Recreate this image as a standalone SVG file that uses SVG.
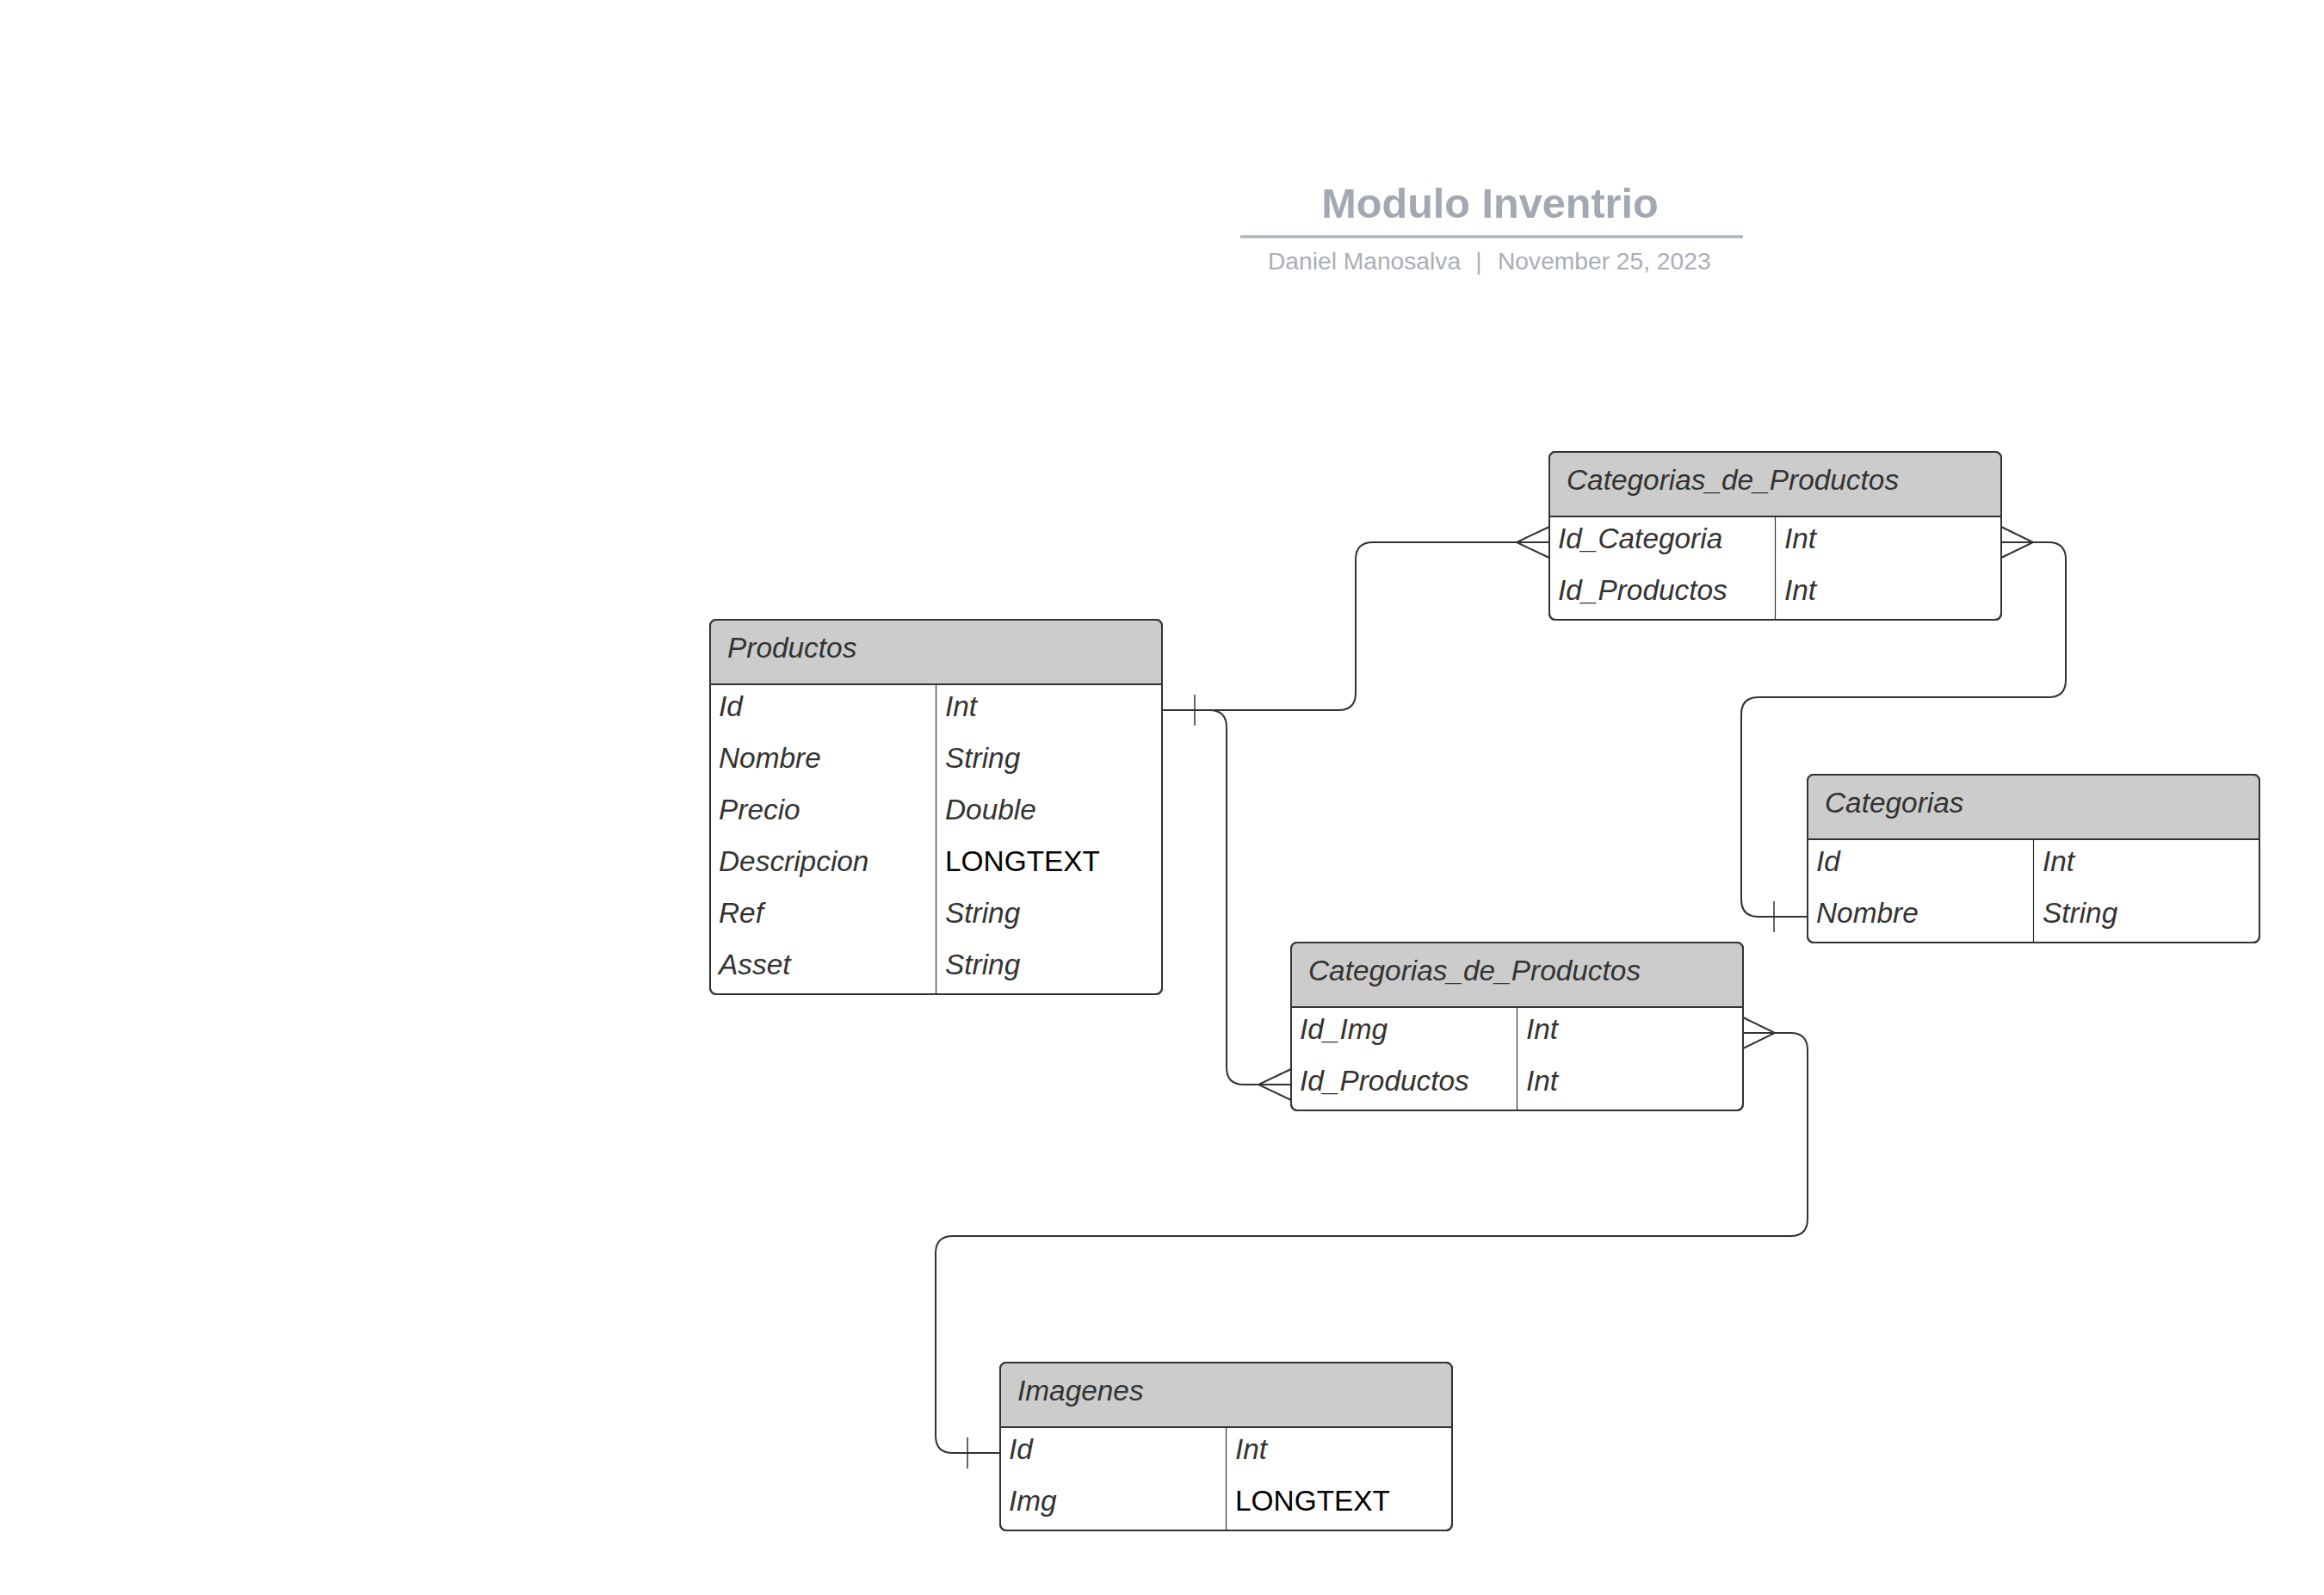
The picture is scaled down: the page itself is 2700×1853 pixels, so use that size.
<svg xmlns="http://www.w3.org/2000/svg" width="2700" height="1853" viewBox="0 0 2700 1853">
<style>
  .box{fill:#ffffff;stroke:#333333;stroke-width:2}
  .hdr{fill:#cccccc;stroke:none}
  .sep{stroke:#333333;stroke-width:2}
  .div{stroke:#333333;stroke-width:1.2}
  .ht{font-family:"Liberation Sans",Arial,sans-serif;font-size:33.4px;font-style:italic;fill:#333333}
  .ft{font-family:"Liberation Sans",Arial,sans-serif;font-size:33.4px;font-style:italic;fill:#333333}
  .lt{font-family:"Liberation Sans",Arial,sans-serif;font-size:33.4px;fill:#000000}
  .conn{fill:none;stroke:#333333;stroke-width:2}
  .tick{fill:none;stroke:#333333;stroke-width:1.5}
  .title{font-family:"Liberation Sans",Arial,sans-serif;font-size:48.6px;font-weight:bold;fill:#a3a9b3}
  .sub{font-family:"Liberation Sans",Arial,sans-serif;font-size:28.2px;fill:#a9aeb7}
</style>
<defs>
  <path id="hdrShape" d="M0,75 V7 Q0,0 7,0 H518 Q525,0 525,7 V75 Z"/>
</defs>
<rect width="2700" height="1853" fill="#ffffff"/>

<g id="title">
  <text class="title" x="1731" y="253" text-anchor="middle">Modulo Inventrio</text>
  <line x1="1441" y1="275" x2="2025" y2="275" stroke="#b0b4bb" stroke-width="3.5"/>
  <text class="sub" x="1473" y="313">Daniel Manosalva</text>
  <text class="sub" x="1718" y="313" text-anchor="middle">|</text>
  <text class="sub" x="1740" y="313">November 25, 2023</text>
</g>

<g id="connectors">
  <path class="conn" d="M1350,825 H1555 Q1575,825 1575,805 V650 Q1575,630 1595,630 H1800"/>
  <path class="conn" d="M1800,612 L1762,630 L1800,648"/>
  <path class="tick" d="M1388,807 V843"/>
  <path class="conn" d="M1350,825 H1405 Q1425,825 1425,845 V1240 Q1425,1260 1445,1260 H1500"/>
  <path class="conn" d="M1500,1242 L1462,1260 L1500,1278"/>
  <path class="conn" d="M2325,630 H2380 Q2400,630 2400,650 V790 Q2400,810 2380,810 H2043 Q2023,810 2023,830 V1045 Q2023,1065 2043,1065 H2100"/>
  <path class="conn" d="M2325,612 L2362,630 L2325,648"/>
  <path class="tick" d="M2061,1047 V1083"/>
  <path class="conn" d="M2025,1200 H2080 Q2100,1200 2100,1220 V1416 Q2100,1436 2080,1436 H1107 Q1087,1436 1087,1456 V1668 Q1087,1688 1107,1688 H1162"/>
  <path class="conn" d="M2025,1182 L2062,1200 L2025,1218"/>
  <path class="tick" d="M1124,1670 V1706"/>
</g>

<g id="productos" transform="translate(825,720)">
  <rect class="box" x="0" y="0" width="525" height="435" rx="7"/>
  <use href="#hdrShape" class="hdr"/>
  <rect x="0" y="0" width="525" height="435" rx="7" fill="none" stroke="#333333" stroke-width="2"/>
  <line class="sep" x1="0" y1="75" x2="525" y2="75"/>
  <line class="div" x1="262.5" y1="75" x2="262.5" y2="435"/>
  <text class="ht" x="20" y="44">Productos</text>
  <text class="ft" x="10" y="112">Id</text><text class="ft" x="273" y="112">Int</text>
  <text class="ft" x="10" y="172">Nombre</text><text class="ft" x="273" y="172">String</text>
  <text class="ft" x="10" y="232">Precio</text><text class="ft" x="273" y="232">Double</text>
  <text class="ft" x="10" y="292">Descripcion</text><text class="lt" x="273" y="292">LONGTEXT</text>
  <text class="ft" x="10" y="352">Ref</text><text class="ft" x="273" y="352">String</text>
  <text class="ft" x="10" y="412">Asset</text><text class="ft" x="273" y="412">String</text>
</g>

<g id="categorias_de_productos_1" transform="translate(1800,525)">
  <rect class="box" x="0" y="0" width="525" height="195" rx="7"/>
  <use href="#hdrShape" class="hdr"/>
  <rect x="0" y="0" width="525" height="195" rx="7" fill="none" stroke="#333333" stroke-width="2"/>
  <line class="sep" x1="0" y1="75" x2="525" y2="75"/>
  <line class="div" x1="262.5" y1="75" x2="262.5" y2="195"/>
  <text class="ht" x="20" y="44">Categorias_de_Productos</text>
  <text class="ft" x="10" y="112">Id_Categoria</text><text class="ft" x="273" y="112">Int</text>
  <text class="ft" x="10" y="172">Id_Productos</text><text class="ft" x="273" y="172">Int</text>
</g>

<g id="categorias" transform="translate(2100,900)">
  <rect class="box" x="0" y="0" width="525" height="195" rx="7"/>
  <use href="#hdrShape" class="hdr"/>
  <rect x="0" y="0" width="525" height="195" rx="7" fill="none" stroke="#333333" stroke-width="2"/>
  <line class="sep" x1="0" y1="75" x2="525" y2="75"/>
  <line class="div" x1="262.5" y1="75" x2="262.5" y2="195"/>
  <text class="ht" x="20" y="44">Categorias</text>
  <text class="ft" x="10" y="112">Id</text><text class="ft" x="273" y="112">Int</text>
  <text class="ft" x="10" y="172">Nombre</text><text class="ft" x="273" y="172">String</text>
</g>

<g id="categorias_de_productos_2" transform="translate(1500,1095)">
  <rect class="box" x="0" y="0" width="525" height="195" rx="7"/>
  <use href="#hdrShape" class="hdr"/>
  <rect x="0" y="0" width="525" height="195" rx="7" fill="none" stroke="#333333" stroke-width="2"/>
  <line class="sep" x1="0" y1="75" x2="525" y2="75"/>
  <line class="div" x1="262.5" y1="75" x2="262.5" y2="195"/>
  <text class="ht" x="20" y="44">Categorias_de_Productos</text>
  <text class="ft" x="10" y="112">Id_Img</text><text class="ft" x="273" y="112">Int</text>
  <text class="ft" x="10" y="172">Id_Productos</text><text class="ft" x="273" y="172">Int</text>
</g>

<g id="imagenes" transform="translate(1162,1583)">
  <rect class="box" x="0" y="0" width="525" height="195" rx="7"/>
  <use href="#hdrShape" class="hdr"/>
  <rect x="0" y="0" width="525" height="195" rx="7" fill="none" stroke="#333333" stroke-width="2"/>
  <line class="sep" x1="0" y1="75" x2="525" y2="75"/>
  <line class="div" x1="262.5" y1="75" x2="262.5" y2="195"/>
  <text class="ht" x="20" y="44">Imagenes</text>
  <text class="ft" x="10" y="112">Id</text><text class="ft" x="273" y="112">Int</text>
  <text class="ft" x="10" y="172">Img</text><text class="lt" x="273" y="172">LONGTEXT</text>
</g>
</svg>
